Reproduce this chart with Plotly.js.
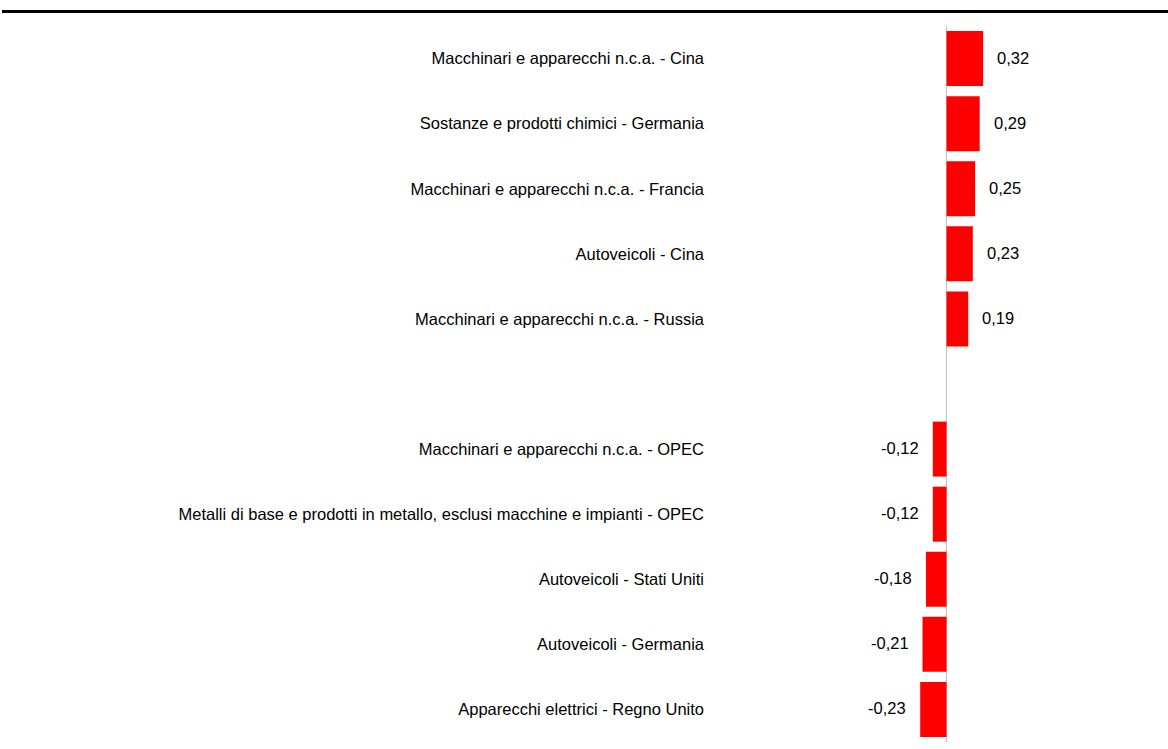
<!DOCTYPE html>
<html>
<head>
<meta charset="utf-8">
<script src="https://cdn.plot.ly/plotly-3.0.1.min.js"></script>
<style>
html,body{margin:0;padding:0;background:#fff;}
#chart{width:1168px;height:749px;}
</style>
</head>
<body>
<div id="chart"></div>
<script>
// Categories (top to bottom); the blank entry is the gap between the two groups
const categories = [
  "Macchinari e apparecchi n.c.a. - Cina",
  "Sostanze e prodotti chimici - Germania",
  "Macchinari e apparecchi n.c.a. - Francia",
  "Autoveicoli - Cina",
  "Macchinari e apparecchi n.c.a. - Russia",
  " ",
  "Macchinari e apparecchi n.c.a. - OPEC",
  "Metalli di base e prodotti in metallo, esclusi macchine e impianti - OPEC",
  "Autoveicoli - Stati Uniti",
  "Autoveicoli - Germania",
  "Apparecchi elettrici - Regno Unito"
];
const values = [0.32, 0.29, 0.25, 0.23, 0.19, null, -0.12, -0.12, -0.18, -0.21, -0.23];
const valueLabels = ["0,32", "0,29", "0,25", "0,23", "0,19", "", "-0,12", "-0,12", "-0,18", "-0,21", "-0,23"];

const FONT = "'Liberation Sans', Arial, sans-serif";
const FS = 16.5;

const annotations = [];
categories.forEach((c, i) => {
  const v = values[i];
  if (v === null) return;
  annotations.push({
    x: v, y: c, xref: 'x', yref: 'y',
    text: valueLabels[i], showarrow: false,
    xanchor: v >= 0 ? 'left' : 'right',
    xshift: v >= 0 ? 12 : -12,
    yshift: 1,
    font: {family: FONT, size: FS, color: '#000'}
  });
});

const L = 712, W = 1168, T = 26, H = 749, B = 7;
const plotW = W - L, plotH = H - T - B;

const trace = {
  type: 'bar', orientation: 'h',
  x: values, y: categories,
  marker: {color: '#FF0000', line: {width: 0}},
  hoverinfo: 'none'
};

const layout = {
  width: W, height: H,
  margin: {l: L, r: 0, t: T, b: B, pad: 0},
  paper_bgcolor: '#fff', plot_bgcolor: '#fff',
  showlegend: false,
  bargap: 0.155,
  font: {family: FONT, size: FS, color: '#000'},
  xaxis: {
    range: [-2.05, 1.936],
    showgrid: false, showticklabels: false, ticks: '',
    zeroline: true, zerolinecolor: '#BFBFBF', zerolinewidth: 1,
    showline: false, fixedrange: true
  },
  yaxis: {
    type: 'category', autorange: 'reversed',
    categoryorder: 'array', categoryarray: categories,
    showgrid: false, zeroline: false, showline: false, ticks: '',
    tickfont: {family: FONT, size: FS, color: '#000'},
    ticklabelstandoff: 7,
    fixedrange: true
  },
  annotations: annotations,
  shapes: [{
    type: 'line', xref: 'paper', yref: 'paper',
    x0: (2 - L) / plotW, x1: 1,
    y0: 1 + (T - 11.5) / plotH, y1: 1 + (T - 11.5) / plotH,
    line: {color: '#000', width: 3}
  }]
};

Plotly.newPlot('chart', [trace], layout, {displayModeBar: false, staticPlot: true});
</script>
</body>
</html>
